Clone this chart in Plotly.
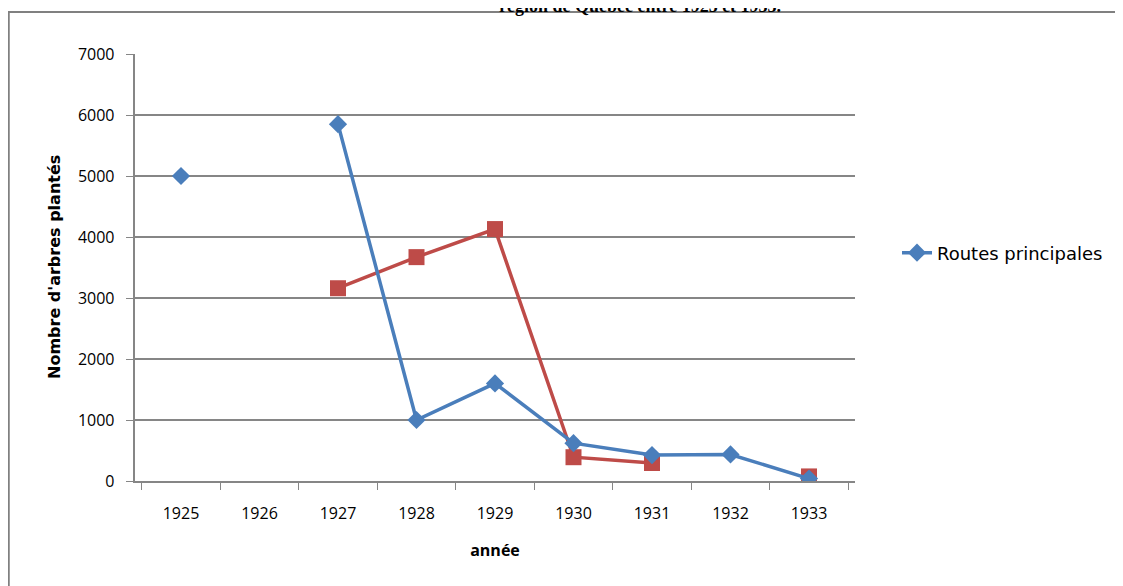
import plotly.graph_objects as go

years = ["1925", "1926", "1927", "1928", "1929", "1930", "1931", "1932", "1933"]
routes_principales = [5000, None, 5850, 1000, 1600, 620, 425, 435, 40]
serie_2 = [None, None, 3160, 3670, 4130, 390, 295, None, 75]

# page is offset by the body margin (8px), so work in figure coords = page - 8
OFF = 8
W, H = 1123, 586
L, T = 135 - OFF, 54 - OFF
pw, ph = 720, 427
R, B = W - L - pw, H - T - ph

def px(x):
    return (x - OFF - L) / pw

def py(y):
    return (T + ph - (y - OFF)) / ph

fig = go.Figure()
fig.add_trace(go.Scatter(
    x=years, y=serie_2, mode="lines+markers", name="Série 2",
    line=dict(color="#BE4B48", width=3.5),
    marker=dict(symbol="square", size=16, color="#BE4B48"),
    connectgaps=False, showlegend=False,
))
fig.add_trace(go.Scatter(
    x=years, y=routes_principales, mode="lines+markers", name="Routes principales",
    line=dict(color="#4A7EBB", width=3.5),
    marker=dict(symbol="diamond", size=14, color="#4A7EBB"),
    connectgaps=False,
))

fig.update_layout(
    width=W, height=H,
    margin=dict(l=L, r=R, t=T, b=B),
    paper_bgcolor="white", plot_bgcolor="white",
    font=dict(family="Open Sans, Noto Sans, sans-serif", size=16, color="#000000"),
    showlegend=True,
    legend=dict(x=px(897), y=py(253), xanchor="left", yanchor="middle",
                font=dict(size=18, family="DejaVu Sans, sans-serif"), bgcolor="rgba(0,0,0,0)"),
    xaxis=dict(
        type="category", tickson="boundaries", ticks="outside", ticklen=7,
        tickcolor="#868686", showline=True, linecolor="#868686", linewidth=2,
        showgrid=False, tickfont=dict(size=16), ticklabelstandoff=17,
        title=dict(text="<b>année</b>", font=dict(size=16), standoff=22),
    ),
    yaxis=dict(
        range=[0, 7000], dtick=1000, ticks="outside", ticklen=7,
        tickcolor="#868686", showline=True, linecolor="#868686", linewidth=2,
        showgrid=True, gridcolor="#868686", gridwidth=1.5, zeroline=False,
        tickfont=dict(size=16), ticksuffix="  ",
    ),
    shapes=[
        dict(type="line", xref="paper", yref="paper", x0=px(8.5), x1=px(8.5), y0=py(12), y1=py(600),
             line=dict(color="#808080", width=2.5)),
        dict(type="line", xref="paper", yref="paper", x0=px(8), x1=px(1140), y0=py(12), y1=py(12),
             line=dict(color="#808080", width=2)),
    ],
    annotations=[
        dict(text="<b>région de Québec entre 1925 et 1933.</b>", xref="paper", yref="paper",
             x=px(640), y=py(18), xanchor="center", yanchor="bottom", showarrow=False,
             font=dict(family="Liberation Serif, Times New Roman, serif", size=18, color="#000000")),
        dict(text="<b>Nombre d'arbres plantés</b>", xref="paper", yref="paper",
             x=px(54), y=py(267), xanchor="center", yanchor="middle", showarrow=False,
             textangle=-90,
             font=dict(family="DejaVu Sans, sans-serif", size=16, color="#000000")),
    ],
)

fig.write_html("out.html")
